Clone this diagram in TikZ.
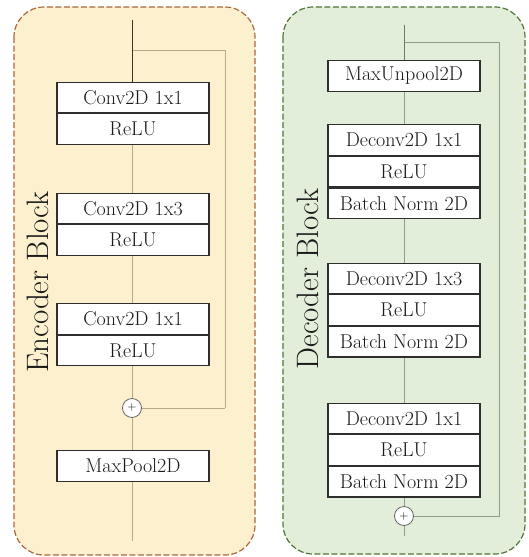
\documentclass[tikz,border=0pt]{standalone}
\usepackage{fontspec}
\definecolor{encfill}{HTML}{FDF0CF}
\definecolor{encedge}{HTML}{A8683A}
\definecolor{decfill}{HTML}{E3EEDA}
\definecolor{decedge}{HTML}{4F7532}
\definecolor{encline}{HTML}{B8A888}
\definecolor{encdark}{HTML}{3E3226}
\definecolor{decline}{HTML}{8F9C88}
\definecolor{decdark}{HTML}{6E7A68}
\definecolor{boxedge}{HTML}{2E2E2E}
\begin{document}
\begin{tikzpicture}[x=1pt,y=-1pt,
  block/.style={rounded corners=30pt, line width=1.2pt, dash pattern=on 6pt off 2.5pt},
  layer/.style={draw=boxedge, fill=white, line width=1.1pt, minimum width=152pt,
    minimum height=30.5pt, inner sep=0pt, text=black!90,
    font=\fontsize{20}{22}\selectfont},
  title/.style={rotate=90, text=black!90, font=\fontsize{31}{34}\selectfont},
  adder/.style={circle, draw, fill=white, line width=0.8pt, minimum size=19pt,
    inner sep=0pt, font=\fontsize{12}{13}\selectfont},
  encflow/.style={draw=encline, line width=0.9pt},
  decflow/.style={draw=decline, line width=0.9pt}]
\useasboundingbox (0,0) rectangle (528,557);

% ---------------- encoder ----------------
\draw[block, draw=encedge, fill=encfill] (14,7) rectangle (255,555);
\node[title] (enctitle) at (37.5,282) {Encoder Block};

\node[layer] (e1a) at (133,97.5) {Conv2D 1x1};
\node[layer, anchor=north] (e1b) at (e1a.south) {ReLU};
\node[layer] (e2a) at (133,208.5) {Conv2D 1x3};
\node[layer, anchor=north] (e2b) at (e2a.south) {ReLU};
\node[layer] (e3a) at (133,319) {Conv2D 1x1};
\node[layer, anchor=north] (e3b) at (e3a.south) {ReLU};
\node[adder, draw=black!60] (eplus) at (132,408) {+};
\node[layer] (epool) at (133,466) {MaxPool2D};

\coordinate (etop) at (132,20);
\coordinate (esplit) at (132,50);
\coordinate (ecor1) at (225,50);
\coordinate (ecor2) at (225,408);
\coordinate (ebot) at (132,541);

\draw[encflow] (ecor2) -- (eplus.east);
\draw[encflow] (esplit) -- (ecor1) -- (ecor2);
\draw[draw=encdark, line width=0.9pt] (etop) -- (e1a.north -| etop);
\draw[encflow] (e1b.south -| etop) -- (e2a.north -| etop);
\draw[encflow] (e2b.south -| etop) -- (e3a.north -| etop);
\draw[encflow] (e3b.south -| etop) -- (eplus.north);
\draw[encflow] (eplus.south) -- (epool.north -| etop);
\draw[encflow] (epool.south -| etop) -- (ebot);

% ---------------- decoder ----------------
\draw[block, draw=decedge, fill=decfill] (283,7) rectangle (525,554);
\node[title] (dectitle) at (307.5,279) {Decoder Block};

\node[layer] (dpool) at (404,76) {MaxUnpool2D};
\node[layer] (d1a) at (404,140) {Deconv2D 1x1};
\node[layer, anchor=north] (d1b) at (d1a.south) {ReLU};
\node[layer, anchor=north] (d1c) at (d1b.south) {Batch Norm 2D};
\node[layer] (d2a) at (404,278.5) {Deconv2D 1x3};
\node[layer, anchor=north] (d2b) at (d2a.south) {ReLU};
\node[layer, anchor=north] (d2c) at (d2b.south) {Batch Norm 2D};
\node[layer] (d3a) at (404,418.5) {Deconv2D 1x1};
\node[layer, anchor=north] (d3b) at (d3a.south) {ReLU};
\node[layer, anchor=north] (d3c) at (d3b.south) {Batch Norm 2D};
\node[adder, draw=black!60] (dplus) at (404,516) {+};

\coordinate (dtop) at (404,25);
\coordinate (dsplit) at (404,42);
\coordinate (dcor1) at (499,42);
\coordinate (dcor2) at (499,516);
\coordinate (dbot) at (404,536);

\draw[decflow] (dsplit) -- (dcor1) -- (dcor2) -- (dplus.east);
\draw[draw=decdark, line width=0.9pt] (dtop) -- (dpool.north);
\draw[decflow] (dpool.south) -- (d1a.north);
\draw[decflow] (d1c.south) -- (d2a.north);
\draw[decflow] (d2c.south) -- (d3a.north);
\draw[decflow] (d3c.south) -- (dplus.north);
\draw[decflow] (dplus.south) -- (dbot);
\end{tikzpicture}
\end{document}
